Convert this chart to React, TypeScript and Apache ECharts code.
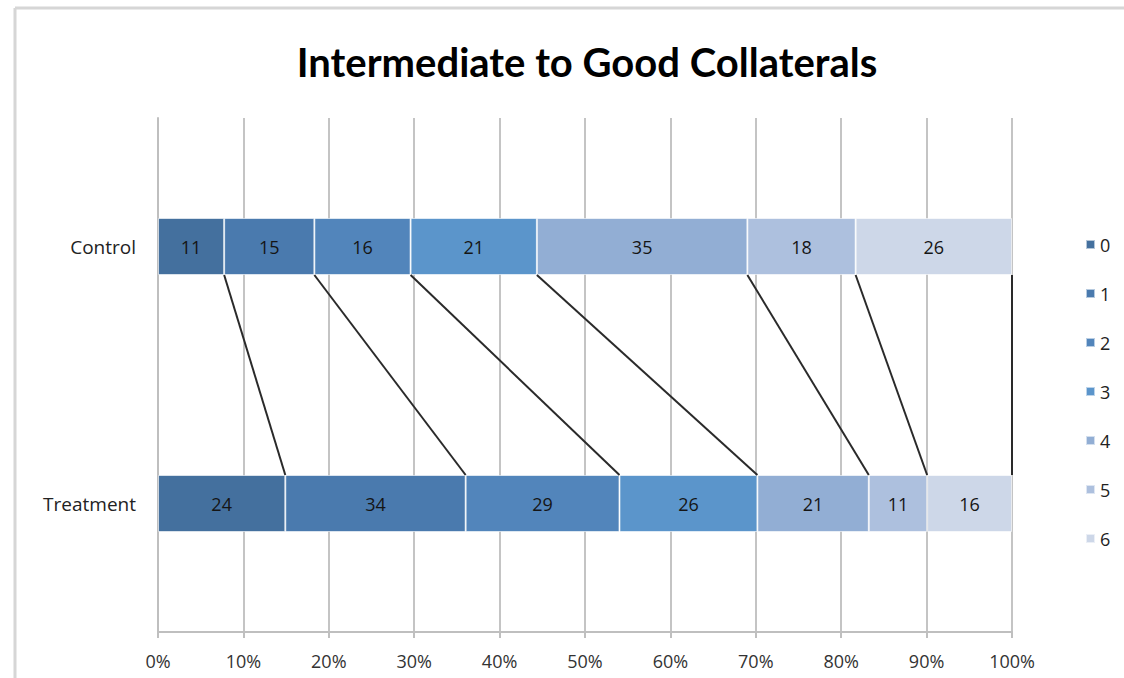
import React, { useEffect, useRef } from "react";
import * as echarts from "echarts";

const categories = ["Control", "Treatment"];
const seriesNames = ["0", "1", "2", "3", "4", "5", "6"];
const controlValues = [11, 15, 16, 21, 35, 18, 26];
const treatmentValues = [24, 34, 29, 26, 21, 11, 16];
const colors = ["#44709e", "#4a7aae", "#5285bb", "#5b95cb", "#92aed4", "#adc0de", "#cdd7e8"];
const tickLabels = ["0%", "10%", "20%", "30%", "40%", "50%", "60%", "70%", "80%", "90%", "100%"];
const titleText = "Intermediate to Good Collaterals";

const TITLE_FONT = "Lato, 'Open Sans', sans-serif";
const FONT = "'Open Sans', 'Noto Sans', sans-serif";
const BAR_W = 57;

function toPct(vals: number[]) {
  const s = vals.reduce((a, b) => a + b, 0);
  return vals.map((v) => (v / s) * 100);
}

export default function App() {
  const ref = useRef<HTMLDivElement>(null);
  useEffect(() => {
    if (!ref.current) return;
    const chart = echarts.init(ref.current, undefined, { renderer: "svg" });
    const cPct = toPct(controlValues);
    const tPct = toPct(treatmentValues);
    const cumC: number[] = [];
    const cumT: number[] = [];
    let a = 0, b = 0;
    for (let i = 0; i < cPct.length; i++) {
      a += cPct[i];
      b += tPct[i];
      cumC.push(a);
      cumT.push(b);
    }
    const connectorData = cumC.map((c, i) => [Math.min(c, 100), Math.min(cumT[i], 100), 0]);

    const barSeries = seriesNames.map((name, i) => ({
      name,
      type: "bar",
      stack: "total",
      barWidth: BAR_W,
      data: [cPct[i], tPct[i]],
      itemStyle: { color: colors[i], borderColor: "rgba(255,255,255,0.6)", borderWidth: 1 },
      label: {
        show: true,
        position: "inside",
        color: "#151515",
        fontSize: 18,
        fontFamily: FONT,
        formatter: (p: any) => String(p.dataIndex === 0 ? controlValues[i] : treatmentValues[i]),
      },
    }));

    chart.setOption({
      animation: false,
      title: {
        text: titleText,
        left: 582,
        top: 37,
        textAlign: "center",
        textStyle: { fontFamily: TITLE_FONT, fontWeight: "bold", fontSize: 40, color: "#000" },
      },
      color: colors,
      legend: {
        data: seriesNames,
        orient: "vertical",
        left: 1080,
        top: 230,
        icon: "rect",
        itemWidth: 9,
        itemHeight: 9,
        itemGap: 30,
        textStyle: { fontFamily: FONT, fontSize: 18, color: "#222", lineHeight: 19 },
      },
      grid: { left: 158, right: 112, top: 118, bottom: 46, containLabel: false },
      xAxis: {
        type: "value",
        min: 0,
        max: 100,
        interval: 10,
        axisLine: { show: true, lineStyle: { color: "#bfbfbf", width: 2 } },
        axisTick: { show: true, length: 6, lineStyle: { color: "#bfbfbf", width: 2 } },
        splitLine: { show: true, lineStyle: { color: "#c4c4c4", width: 2 } },
        axisLabel: {
          formatter: (v: number) => tickLabels[Math.round(v / 10)],
          fontFamily: FONT,
          fontSize: 18,
          color: "#333",
          margin: 20,
        },
      },
      yAxis: {
        type: "category",
        data: categories,
        inverse: true,
        axisLine: { show: true, lineStyle: { color: "#bfbfbf", width: 2 } },
        axisTick: { show: false },
        axisLabel: { fontFamily: FONT, fontSize: 19, color: "#222", margin: 22 },
      },
      graphic: [
        { type: "line", shape: { x1: 15, y1: 8, x2: 1124, y2: 8 }, style: { stroke: "#d6d6d6", lineWidth: 3 } },
        { type: "line", shape: { x1: 15, y1: 8, x2: 15, y2: 678 }, style: { stroke: "#d6d6d6", lineWidth: 3 } },
      ],
      series: [
        ...barSeries,
        {
          type: "custom",
          name: "connectors",
          encode: { x: [0, 1], y: 2 },
          data: connectorData,
          z: 5,
          silent: true,
          renderItem: (params: any, api: any) => {
            const p1 = api.coord([api.value(0), 0]);
            const p2 = api.coord([api.value(1), 1]);
            return {
              type: "line",
              shape: { x1: p1[0], y1: p1[1] + BAR_W / 2, x2: p2[0], y2: p2[1] - BAR_W / 2 },
              style: { stroke: "#2a2a2a", lineWidth: 2 },
            };
          },
        },
      ],
    });
    return () => chart.dispose();
  }, []);
  return (
    <div
      ref={ref}
      style={{ position: "fixed", left: 0, top: 0, width: 1124, height: 678, background: "#fff" }}
    />
  );
}
